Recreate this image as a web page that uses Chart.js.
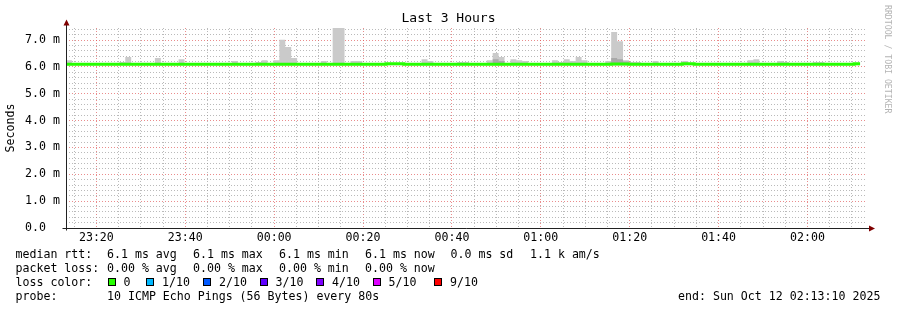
<!DOCTYPE html>
<html>
<head>
<meta charset="utf-8">
<script src="https://cdn.jsdelivr.net/npm/chart.js@4.4.1/dist/chart.umd.min.js"></script>
<style>
  html, body { margin: 0; padding: 0; background: #fff; }
  #wrap { position: relative; width: 897px; height: 310px; overflow: hidden;
          font-family: 'DejaVu Sans Mono', monospace; font-size: 11.6px; color: #000; }
  #rtt-chart { position: absolute; left: 0; top: 0; }
  .lg { position: absolute; white-space: pre; line-height: 14px; }
  .box { position: absolute; width: 8px; height: 8px; box-sizing: border-box; border: 1px solid #000; }
  #credit { position: absolute; left: 883px; top: 5px; writing-mode: vertical-rl;
            font-size: 8.2px; line-height: 9px; color: #b4b4b4; }
</style>
</head>
<body>
<div id="wrap">
  <canvas id="rtt-chart" width="897" height="310"></canvas>

  <div class="lg" style="left:15.5px;top:246.5px">median rtt:</div>
  <div class="lg" style="left:107px;top:246.5px">6.1 ms avg</div>
  <div class="lg" style="left:193px;top:246.5px">6.1 ms max</div>
  <div class="lg" style="left:279px;top:246.5px">6.1 ms min</div>
  <div class="lg" style="left:365px;top:246.5px">6.1 ms now</div>
  <div class="lg" style="left:450.5px;top:246.5px">0.0 ms sd</div>
  <div class="lg" style="left:530px;top:246.5px">1.1 k am/s</div>

  <div class="lg" style="left:15.5px;top:260.5px">packet loss:</div>
  <div class="lg" style="left:107px;top:260.5px">0.00 % avg</div>
  <div class="lg" style="left:193px;top:260.5px">0.00 % max</div>
  <div class="lg" style="left:279px;top:260.5px">0.00 % min</div>
  <div class="lg" style="left:365px;top:260.5px">0.00 % now</div>

  <div class="lg" style="left:15.5px;top:274.5px">loss color:</div>
  <div id="loss-legend"></div>

  <div class="lg" style="left:15.5px;top:289px">probe:</div>
  <div class="lg" style="left:107px;top:289px">10 ICMP Echo Pings (56 Bytes) every 80s</div>
  <div class="lg" style="left:678px;top:289px">end: Sun Oct 12 02:13:10 2025</div>

  <div id="credit">RRDTOOL / TOBI OETIKER</div>
</div>
<script>
( function () {
    'use strict';

    // x axis: minutes after 23:00 on Oct 11
    var viewStart = 13 + 10 / 60;     // 23:13:10
    var viewEnd = 193 + 10 / 60;      // 02:13:10
    var stepStart = 13 + 10 / 60;     // first 80 s step
    var stepMinutes = 80 / 60;

    var xTickLabels = [ '23:20', '23:40', '00:00', '00:20', '00:40', '01:00', '01:20', '01:40', '02:00' ];
    var yTickLabels = [ '0.0  ', '1.0 m', '2.0 m', '3.0 m', '4.0 m', '5.0 m', '6.0 m', '7.0 m' ];

    // ms, one value per 80 s step
    var smokeMax = [
        6.25, 6.12, 6.12, 6.12, 6.12, 6.12, 6.12, 6.12, 6.12, 6.18,
        6.37, 6.12, 6.12, 6.12, 6.12, 6.33, 6.12, 6.12, 6.12, 6.29,
        6.12, 6.12, 6.12, 6.12, 6.12, 6.12, 6.12, 6.12, 6.22, 6.12,
        6.12, 6.12, 6.18, 6.25, 6.12, 6.25, 7.01, 6.74, 6.33, 6.14,
        6.12, 6.12, 6.12, 6.22, 6.14, 7.45, 7.45, 6.12, 6.22, 6.22,
        6.12, 6.12, 6.12, 6.12, 6.12, 6.12, 6.12, 6.12, 6.12, 6.14,
        6.29, 6.22, 6.12, 6.14, 6.12, 6.14, 6.18, 6.18, 6.14, 6.14,
        6.14, 6.25, 6.52, 6.37, 6.14, 6.29, 6.25, 6.22, 6.14, 6.12,
        6.14, 6.12, 6.25, 6.18, 6.29, 6.22, 6.37, 6.25, 6.12, 6.12,
        6.12, 6.22, 7.30, 6.96, 6.25, 6.18, 6.18, 6.12, 6.14, 6.22,
        6.14, 6.12, 6.12, 6.12, 6.22, 6.14, 6.12, 6.12, 6.12, 6.12,
        6.12, 6.12, 6.12, 6.12, 6.12, 6.25, 6.29, 6.14, 6.12, 6.12,
        6.22, 6.18, 6.12, 6.12, 6.12, 6.12, 6.18, 6.18, 6.12, 6.12,
        6.12, 6.12, 6.12, 6.14
    ];
    var smokeMid = [
        6.06, 6.06, 6.06, 6.06, 6.06, 6.06, 6.06, 6.06, 6.06, 6.06,
        6.06, 6.06, 6.06, 6.06, 6.06, 6.06, 6.06, 6.06, 6.06, 6.06,
        6.06, 6.06, 6.06, 6.06, 6.06, 6.06, 6.06, 6.06, 6.06, 6.06,
        6.06, 6.06, 6.06, 6.06, 6.06, 6.06, 6.06, 6.06, 6.06, 6.06,
        6.06, 6.06, 6.06, 6.06, 6.06, 6.06, 6.06, 6.06, 6.06, 6.06,
        6.06, 6.06, 6.06, 6.06, 6.06, 6.06, 6.06, 6.06, 6.06, 6.06,
        6.06, 6.06, 6.06, 6.06, 6.06, 6.06, 6.06, 6.06, 6.06, 6.06,
        6.06, 6.06, 6.29, 6.22, 6.06, 6.06, 6.06, 6.06, 6.06, 6.06,
        6.06, 6.06, 6.06, 6.06, 6.06, 6.06, 6.06, 6.06, 6.06, 6.06,
        6.06, 6.06, 6.33, 6.29, 6.20, 6.06, 6.06, 6.06, 6.06, 6.06,
        6.06, 6.06, 6.06, 6.06, 6.06, 6.06, 6.06, 6.06, 6.06, 6.06,
        6.06, 6.06, 6.06, 6.06, 6.06, 6.06, 6.06, 6.06, 6.06, 6.06,
        6.06, 6.06, 6.06, 6.06, 6.06, 6.06, 6.06, 6.06, 6.06, 6.06,
        6.06, 6.06, 6.06, 6.06
    ];
    var smokeMin = [
        6.06, 6.06, 6.06, 6.06, 6.06, 6.06, 6.06, 6.06, 6.06, 6.06,
        6.06, 6.06, 6.06, 6.06, 6.06, 6.06, 6.06, 6.06, 6.06, 6.06,
        6.06, 6.06, 6.06, 6.06, 6.06, 6.06, 6.06, 6.06, 6.06, 6.06,
        6.06, 6.06, 6.06, 6.06, 6.06, 6.06, 6.06, 6.06, 6.06, 6.06,
        6.06, 6.06, 6.06, 6.06, 6.06, 6.06, 6.06, 6.06, 6.06, 6.06,
        6.06, 6.06, 6.06, 6.06, 6.06, 6.06, 6.06, 6.06, 6.06, 6.06,
        6.06, 6.06, 6.06, 6.06, 6.06, 6.06, 6.06, 6.06, 6.06, 6.06,
        6.06, 6.06, 6.06, 6.06, 6.06, 6.06, 6.06, 6.06, 6.06, 6.06,
        6.06, 6.06, 6.06, 6.06, 6.06, 6.06, 6.06, 6.06, 6.06, 6.06,
        6.06, 6.06, 6.06, 6.06, 6.06, 6.06, 6.06, 6.06, 6.06, 6.06,
        6.06, 6.06, 6.06, 6.06, 6.06, 6.06, 6.06, 6.06, 6.06, 6.06,
        6.06, 6.06, 6.06, 6.06, 6.06, 6.06, 6.06, 6.06, 6.06, 6.06,
        6.06, 6.06, 6.06, 6.06, 6.06, 6.06, 6.06, 6.06, 6.06, 6.06,
        6.06, 6.06, 6.06, 6.06
    ];
    var medianRtt = [
        6.10, 6.10, 6.10, 6.10, 6.10, 6.10, 6.10, 6.10, 6.10, 6.10,
        6.10, 6.10, 6.10, 6.10, 6.10, 6.10, 6.10, 6.10, 6.10, 6.10,
        6.10, 6.10, 6.10, 6.10, 6.10, 6.10, 6.10, 6.10, 6.10, 6.10,
        6.10, 6.10, 6.10, 6.10, 6.10, 6.10, 6.10, 6.10, 6.10, 6.10,
        6.10, 6.10, 6.10, 6.10, 6.10, 6.10, 6.10, 6.10, 6.10, 6.10,
        6.10, 6.10, 6.10, 6.10, 6.12, 6.12, 6.12, 6.10, 6.10, 6.10,
        6.10, 6.10, 6.10, 6.10, 6.10, 6.10, 6.10, 6.10, 6.10, 6.10,
        6.10, 6.10, 6.10, 6.10, 6.10, 6.10, 6.10, 6.10, 6.10, 6.10,
        6.10, 6.10, 6.10, 6.10, 6.10, 6.10, 6.10, 6.10, 6.10, 6.10,
        6.10, 6.10, 6.11, 6.11, 6.11, 6.10, 6.10, 6.10, 6.10, 6.10,
        6.10, 6.10, 6.10, 6.10, 6.12, 6.12, 6.10, 6.10, 6.10, 6.10,
        6.10, 6.10, 6.10, 6.10, 6.10, 6.10, 6.10, 6.10, 6.10, 6.10,
        6.10, 6.10, 6.10, 6.10, 6.10, 6.10, 6.10, 6.10, 6.10, 6.10,
        6.10, 6.10, 6.10, 6.12
    ];

    var lossLabels = [ '0', '1/10', '2/10', '3/10', '4/10', '5/10', '9/10' ];
    var lossColors = [ '#26ff00', '#00b8ff', '#0059ff', '#5e00ff', '#7e00ff', '#dd00ff', '#ff0000' ];

    var fontFamily = "'DejaVu Sans Mono', monospace";
    var gridGrey = 'rgba(140,140,140,0.6)';
    var gridRed = 'rgba(222,79,79,0.65)';

    // loss colour legend
    var boxLeft = [ 107.5, 146, 203, 259.5, 316, 372.5, 434 ];
    var holder = document.getElementById( 'loss-legend' );
    lossLabels.forEach( function ( label, i ) {
        var box = document.createElement( 'span' );
        box.className = 'box';
        box.style.left = boxLeft[ i ] + 'px';
        box.style.top = '277.5px';
        box.style.background = lossColors[ i ];
        holder.appendChild( box );
        var txt = document.createElement( 'div' );
        txt.className = 'lg';
        txt.style.left = ( boxLeft[ i ] + 16 ) + 'px';
        txt.style.top = '274.5px';
        txt.textContent = label;
        holder.appendChild( txt );
    } );

    function toMinutes( hhmm ) {
        var h = parseInt( hhmm.slice( 0, 2 ), 10 );
        var m = parseInt( hhmm.slice( 3 ), 10 );
        return ( h >= 12 ? h - 23 : h + 1 ) * 60 + m;
    }
    var xMajor = xTickLabels.map( toMinutes );

    function toPoints( values ) {
        var pts = values.map( function ( v, i ) {
            return { x: stepStart + i * stepMinutes, y: v };
        } );
        pts.push( { x: stepStart + values.length * stepMinutes, y: values[ values.length - 1 ] } );
        return pts;
    }

    var axisArrows = {
        id: 'axisArrows',
        afterDraw: function ( chart ) {
            var a = chart.chartArea, c = chart.ctx;
            var x0 = Math.round( a.left ) + 0.5, y0 = Math.round( a.bottom ) + 0.5;
            c.save();
            c.strokeStyle = '#212121';
            c.lineWidth = 1;
            c.beginPath();
            c.moveTo( x0 - 4, y0 );
            c.lineTo( a.right + 4, y0 );
            c.moveTo( x0, y0 + 2 );
            c.lineTo( x0, a.top - 4 );
            c.stroke();
            c.fillStyle = '#7f0000';
            c.beginPath();
            c.moveTo( x0 - 3, a.top - 2.5 );
            c.lineTo( x0 + 3, a.top - 2.5 );
            c.lineTo( x0, a.top - 8.5 );
            c.closePath();
            c.fill();
            c.beginPath();
            c.moveTo( a.right + 3, y0 - 3 );
            c.lineTo( a.right + 3, y0 + 3 );
            c.lineTo( a.right + 9, y0 );
            c.closePath();
            c.fill();
            c.restore();
        },
    };

    var smokeStyle = {
        stepped: 'before',
        borderWidth: 0,
        borderColor: 'transparent',
        pointRadius: 0,
    };

    new Chart( document.getElementById( 'rtt-chart' ), {
        type: 'line',
        data: {
            datasets: [ {
                label: 'median rtt',
                data: toPoints( medianRtt ),
                stepped: 'before',
                borderColor: lossColors[ 0 ],
                borderWidth: 3,
                borderCapStyle: 'butt',
                pointRadius: 0,
                fill: false,
                order: 0,
            }, Object.assign( {
                label: 'smoke mid',
                data: toPoints( smokeMid ),
                backgroundColor: '#a9a9a9',
                fill: 3,
                order: 1,
            }, smokeStyle ), Object.assign( {
                label: 'smoke',
                data: toPoints( smokeMax ),
                backgroundColor: '#cacaca',
                fill: 3,
                order: 2,
            }, smokeStyle ), Object.assign( {
                label: 'smoke min',
                data: toPoints( smokeMin ),
                fill: false,
                order: 3,
            }, smokeStyle ) ],
        },
        options: {
            responsive: false,
            animation: false,
            layout: { padding: 0 },
            plugins: {
                legend: { display: false },
                tooltip: { enabled: false },
                title: {
                    display: true,
                    text: 'Last 3 Hours',
                    color: '#000',
                    font: { family: fontFamily, size: 13, weight: 'normal' },
                    padding: { top: 11, bottom: 1.4 },
                },
            },
            scales: {
                x: {
                    type: 'linear',
                    min: viewStart,
                    max: viewEnd,
                    afterBuildTicks: function ( scale ) {
                        var ticks = [];
                        for ( var m = Math.ceil( viewStart / 5 ) * 5; m <= viewEnd; m += 5 ) {
                            ticks.push( { value: m } );
                        }
                        scale.ticks = ticks;
                    },
                    afterFit: function ( scale ) { scale.height = 82; },
                    grid: {
                        drawTicks: false,
                        color: function ( ctx ) {
                            return xMajor.indexOf( ctx.tick.value ) >= 0 ? gridRed : gridGrey;
                        },
                    },
                    border: { display: false, dash: [ 1, 2 ] },
                    ticks: {
                        autoSkip: false,
                        maxRotation: 0,
                        padding: 3,
                        color: '#000',
                        font: { family: fontFamily, size: 11.6 },
                        callback: function ( v ) {
                            var i = xMajor.indexOf( v );
                            return i >= 0 ? xTickLabels[ i ] : '';
                        },
                    },
                },
                y: {
                    min: 0,
                    max: 7.45,
                    afterBuildTicks: function ( scale ) {
                        var ticks = [];
                        for ( var i = 0; i <= 37; i++ ) ticks.push( { value: i / 5 } );
                        scale.ticks = ticks;
                    },
                    afterFit: function ( scale ) { scale.width = 66; },
                    title: {
                        display: true,
                        text: 'Seconds',
                        color: '#000',
                        font: { family: fontFamily, size: 11.6 },
                        padding: { top: 4.5, bottom: 0 },
                    },
                    grid: {
                        drawTicks: false,
                        color: function ( ctx ) {
                            var v = ctx.tick.value;
                            return Math.abs( v - Math.round( v ) ) < 1e-6 ? gridRed : gridGrey;
                        },
                    },
                    border: { display: false, dash: [ 1, 2 ] },
                    ticks: {
                        autoSkip: false,
                        padding: 6,
                        color: '#000',
                        font: { family: fontFamily, size: 11.6 },
                        callback: function ( v ) {
                            var r = Math.round( v );
                            return Math.abs( v - r ) < 1e-6 && yTickLabels[ r ] ? yTickLabels[ r ] : '';
                        },
                    },
                },
                // empty right-hand margin, keeps the title centred on the full width
                gap: {
                    position: 'right',
                    display: true,
                    grid: { display: false },
                    border: { display: false },
                    ticks: { display: false },
                    afterFit: function ( scale ) { scale.width = 31; },
                },
            },
        },
        plugins: [ axisArrows ],
    } );
} )();
</script>
</body>
</html>
